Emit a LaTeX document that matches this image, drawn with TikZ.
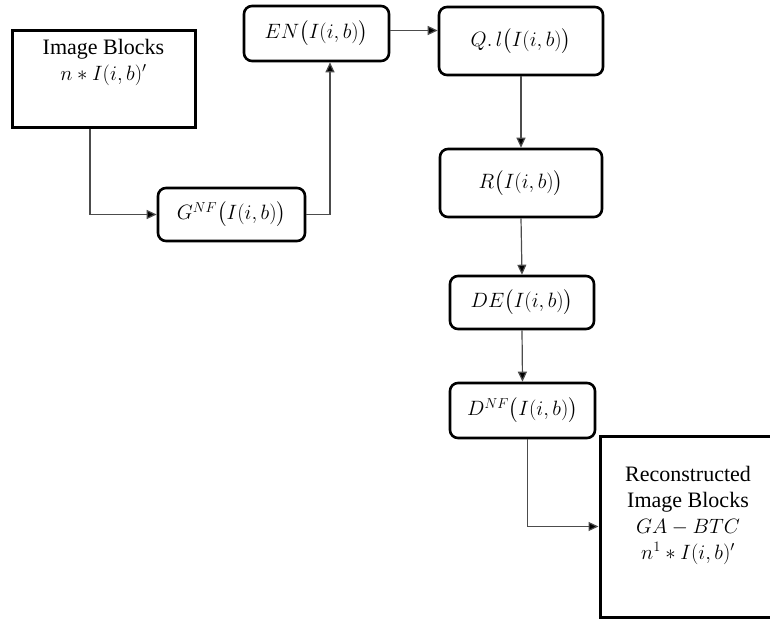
\documentclass[tikz,border=0pt]{standalone}
\usepackage{amsmath}
\usepackage{fontspec}
\setmainfont{Liberation Serif}
\usetikzlibrary{arrows.meta}
\begin{document}
\begin{tikzpicture}[x=1pt,y=-1pt,
  every node/.style={font=\fontsize{22}{26}\selectfont},
  sqbox/.style={draw, line width=3pt, rectangle, inner sep=0pt},
  rbox/.style={draw, line width=2.6pt, rectangle, rounded corners=8pt, inner sep=0pt},
  conn/.style={draw=black!70, line width=1.2pt, -{Triangle[length=10pt,width=9pt,fill=black]}}]
\useasboundingbox (0,0) rectangle (770,618);
\begin{scope}
\clip (0,0) rectangle (770,618);
\node[sqbox, minimum width=183pt, minimum height=96pt,
  label={[anchor=north, align=center, yshift=-6pt, font=\fontsize{22}{26}\selectfont]north:{Image Blocks\\$n*I(i,b)'$}}] (img) at (103.5,79) {};
\node[rbox, minimum width=147pt, minimum height=53pt] (gnf) at (231.5,214.5) {$G^{NF}\bigl(I(i,b)\bigr)$};
\node[rbox, minimum width=145pt, minimum height=55pt] (en) at (316.5,33.5) {$EN\bigl(I(i,b)\bigr)$};
\node[rbox, minimum width=164pt, minimum height=68pt] (ql) at (521,41) {$Q.\,l\bigl(I(i,b)\bigr)$};
\node[rbox, minimum width=162pt, minimum height=68pt] (r) at (521,183) {$R\bigl(I(i,b)\bigr)$};
\node[rbox, minimum width=144pt, minimum height=53pt] (de) at (522,302.5) {$DE\bigl(I(i,b)\bigr)$};
\node[rbox, minimum width=145pt, minimum height=55pt] (dnf) at (522.5,410.5) {$D^{NF}\bigl(I(i,b)\bigr)$};
\node[sqbox, minimum width=176pt, minimum height=181pt,
  label={[anchor=north, align=center, yshift=-28pt, font=\fontsize{22}{26}\selectfont]north:{Reconstructed\\Image Blocks\\$GA-BTC$\\$n^1*I(i,b)'$}}] (rec) at (688,526.5) {};
\end{scope}
\draw[conn] ([xshift=-13.5pt]img.south) |- (gnf.west);
\draw[conn] (gnf.east) -| ([xshift=13.5pt]en.south);
\draw[conn] ([yshift=3pt]en.east) -- ([yshift=3pt]en.east -| ql.west);
\draw[conn] (ql.south) -- (r.north);
\draw[conn] (r.south) -- (de.north);
\draw[conn] (de.south) -- (dnf.north);
\draw[conn] ([xshift=5pt]dnf.south) |- (rec.west);
\end{tikzpicture}
\end{document}
